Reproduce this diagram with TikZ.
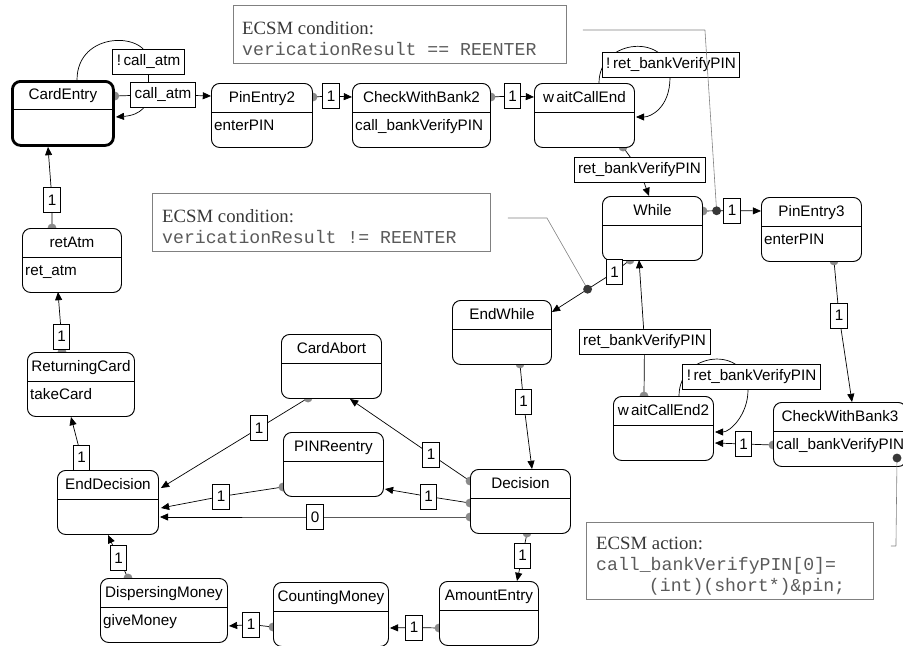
\documentclass[tikz,border=0pt]{standalone}
\usepackage{fontspec}
\setmainfont{Liberation Serif}
\setsansfont{Liberation Sans}
\setmonofont{Liberation Mono}
\usetikzlibrary{arrows.meta}

\definecolor{notegray}{HTML}{808080}
\definecolor{dotgray}{HTML}{8A8A8A}
\definecolor{notetext}{HTML}{383838}
\definecolor{codetext}{HTML}{5A5A5A}

\pgfdeclarelayer{bg}
\pgfsetlayers{bg,main}

\tikzset{
  nudge/.style={shift={(#1)}},
  state/.style={draw, fill=white, rounded corners=7pt, anchor=north west,
    minimum height=1.92cm, inner sep=0pt, line width=0.8pt},
  initstate/.style={line width=2.4pt},
  title/.style={anchor=base, inner sep=0pt, font=\sffamily\fontsize{13}{15}\selectfont},
  body/.style={anchor=base west, inner sep=0pt, font=\sffamily\fontsize{13}{15}\selectfont},
  lbl/.style={draw, fill=white, line width=0.7pt, inner xsep=3.5pt, inner ysep=0pt,
    minimum height=0.75cm, font=\sffamily\fontsize{13}{15}\selectfont},
  flow/.style={line width=0.6pt, -{Triangle[length=7pt,width=6pt]}},
  dot/.style={circle, fill=dotgray, inner sep=0pt, minimum size=7.6pt},
  pin/.style={fill=notetext},
  note/.style={draw=notegray, line width=0.8pt, anchor=north west, inner sep=0pt},
  notetxt/.style={anchor=north west, inner sep=0pt, align=left, text=notetext,
    font=\rmfamily\fontsize{16}{18}\selectfont},
  noteline/.style={draw=notegray, line width=0.5pt}
}

\newcommand{\umlstate}[7][]{%
  \node[state,#1,minimum width=#5*0.03cm] (#2) at (#3,#4) {};
  \draw[line width=0.7pt] ([nudge={0,29}]#2.north west) -- ([nudge={0,29}]#2.north east);
  \node[title] at ([nudge={0,19}]#2.north) {#6};
  \node[body] at ([nudge={3,47}]#2.north west) {#7};
}
\newcommand{\code}[1]{{\ttfamily\fontsize{15.5}{18}\selectfont\color{codetext}#1}}

\begin{document}
\begin{tikzpicture}[x=0.03cm,y=-0.03cm]
\useasboundingbox (0,0) rectangle (903,645);
\clip (0,0) rectangle (903,645);

% states
\umlstate[initstate]{CardEntry}{11}{80}{101}{CardEntry}{}
\umlstate{PinEntry2}{211}{83}{101}{PinEntry2}{enterPIN}
\umlstate{CheckWithBank2}{352}{83}{138}{CheckWithBank2}{call\_bankVerifyPIN}
\umlstate{waitCallEnd}{534}{83}{100}{w\kern2pt aitCallEnd}{}
\umlstate{While}{602}{196}{100}{While}{}
\umlstate{PinEntry3}{761}{197}{100}{PinEntry3}{enterPIN}
\umlstate{CheckWithBank3}{773}{402}{133}{CheckWithBank3}{call\_bankVerifyPIN}
\umlstate{waitCallEnd2}{613}{396}{100}{w\kern2pt aitCallEnd2}{}
\umlstate{EndWhile}{452}{300}{99}{EndWhile}{}
\umlstate{Decision}{470}{469}{100}{Decision}{}
\umlstate{AmountEntry}{439}{581}{99}{AmountEntry}{}
\umlstate{CountingMoney}{273}{582}{115}{CountingMoney}{}
\umlstate{DispersingMoney}{100}{578}{127}{DispersingMoney}{giveMoney}
\umlstate{EndDecision}{57}{470}{101}{EndDecision}{}
\umlstate{PINReentry}{283}{432}{100}{PINReentry}{}
\umlstate{CardAbort}{281}{334}{100}{CardAbort}{}
\umlstate{ReturningCard}{27}{352}{107}{ReturningCard}{takeCard}
\umlstate{retAtm}{22}{228}{99}{retAtm}{ret\_atm}

% guards
\node[lbl] (g1) at (163,94.5) {call\_atm};
\node[lbl] (g2) at (148.5,61.5) {!\,call\_atm};
\node[lbl] (g3) at (331,96) {1};
\node[lbl] (g4) at (512.5,96) {1};
\node[lbl] (g5) at (671,64.5) {!\,ret\_bankVerifyPIN};
\node[lbl] (g6) at (639.5,170) {ret\_bankVerifyPIN};
\node[lbl] (g7) at (732,210.5) {1};
\node[lbl] (g8) at (614.5,272) {1};
\node[lbl] (g9) at (644.5,342) {ret\_bankVerifyPIN};
\node[lbl] (g10) at (751.5,377) {!\,ret\_bankVerifyPIN};
\node[lbl] (g11) at (839,315.5) {1};
\node[lbl] (g12) at (743.5,444) {1};
\node[lbl] (g13) at (523.5,401.5) {1};
\node[lbl] (g14) at (431,454.5) {1};
\node[lbl] (g15) at (428.5,496.5) {1};
\node[lbl] (g16) at (315,517) {0};
\node[lbl] (g17) at (522.5,555.5) {1};
\node[lbl] (g18) at (414,627.5) {1};
\node[lbl] (g19) at (251,624.5) {1};
\node[lbl] (g20) at (118.5,558) {1};
\node[lbl] (g21) at (81.5,457.5) {1};
\node[lbl] (g22) at (221,496.5) {1};
\node[lbl] (g23) at (259,428) {1};
\node[lbl] (g24) at (61.5,336.5) {1};
\node[lbl] (g25) at (52,200) {1};

% transitions
\begin{pgfonlayer}{bg}
\draw[flow] ([nudge={0,16}]CardEntry.north east) node[dot]{} -- (g1.center) -- ([nudge={0,13}]PinEntry2.north west);
\draw[flow] ([nudge={66,0}]CardEntry.north west) .. controls +(0,-50) and +(0,-30) .. (g2.center)
  -- (g2.center |- g1.center) .. controls +(0,10) and +(26,-2) .. ([nudge={1,37}]CardEntry.north east);
\draw[flow] ([nudge={0,14}]PinEntry2.north east) node[dot]{} -- (g3.center) -- ([nudge={0,14}]CheckWithBank2.north west);
\draw[flow] ([nudge={0,14}]CheckWithBank2.north east) node[dot]{} -- (g4.center) -- ([nudge={0,14}]waitCallEnd.north west);
\draw[flow] ([nudge={65,0}]waitCallEnd.north west) .. controls +(0,-45) and +(0,-45) .. ([nudge={-1,0}]g5.south)
  .. controls +(0,30) and +(15,0) .. ([nudge={1,34}]waitCallEnd.north east);
\draw[flow] ([nudge={89,64}]waitCallEnd.north west) node[dot]{} -- (g6.center) -- ([nudge={47,0}]While.north west);
\draw[flow] ([nudge={0,15}]While.north east) node[dot]{} -- coordinate[pos=0.47] (pinA) (g7.center) -- ([nudge={0,14}]PinEntry3.north west);
\draw[flow] ([nudge={28,64}]While.north west) node[dot]{} -- (g8.center) -- coordinate[pos=0.43] (pinB) ([nudge={0,12}]EndWhile.north east);
\draw[flow] ([nudge={31,0}]waitCallEnd2.north west) node[dot]{} -- (g9.center) -- ([nudge={37,64}]While.north west);
\draw[flow] ([nudge={66,0}]waitCallEnd2.north west) .. controls +(0,-45) and +(0,-45) .. ([nudge={-3.5,0}]g10.south)
  .. controls +(0,25) and +(15,0) .. ([nudge={1,36}]waitCallEnd2.north east);
\draw[flow] ([nudge={73,64}]PinEntry3.north west) node[dot]{} -- (g11.center) -- ([nudge={79,0}]CheckWithBank3.north west);
\draw[flow] ([nudge={0,43}]CheckWithBank3.north west) node[dot]{} -- (g12.center) -- ([nudge={1,47}]waitCallEnd2.north east);
\draw[flow] ([nudge={68,64}]EndWhile.north west) node[dot]{} -- (g13.center) -- ([nudge={62,0}]Decision.north west);
\draw[flow] ([nudge={0,12}]Decision.north west) node[dot]{} -- (g14.center) -- ([nudge={69,65}]CardAbort.north west);
\draw[flow] ([nudge={0,34}]Decision.north west) node[dot]{} -- (g15.center) -- ([nudge={1,57}]PINReentry.north east);
\draw[flow] ([nudge={0,48}]Decision.north west) node[dot]{} -- (g16.center) -- ([nudge={1,47}]EndDecision.north east);
\draw[flow] ([nudge={57,64}]Decision.north west) node[dot]{} -- (g17.center) -- ([nudge={78,0}]AmountEntry.north west);
\draw[flow] ([nudge={0,47}]AmountEntry.north west) node[dot]{} -- (g18.center) -- ([nudge={1,46}]CountingMoney.north east);
\draw[flow] ([nudge={0,45}]CountingMoney.north west) node[dot]{} -- (g19.center) -- ([nudge={1,48}]DispersingMoney.north east);
\draw[flow] ([nudge={28,0}]DispersingMoney.north west) node[dot]{} -- (g20.center) -- ([nudge={51,65}]EndDecision.north west);
\draw[flow] ([nudge={23,0}]EndDecision.north west) node[dot]{} -- (g21.center) -- ([nudge={44,65}]ReturningCard.north west);
\draw[flow] ([nudge={0,55}]PINReentry.north west) node[dot]{} -- (g22.center) -- ([nudge={2,38}]EndDecision.north east);
\draw[flow] ([nudge={27,64}]CardAbort.north west) node[dot]{} -- (g23.center) -- ([nudge={2,18}]EndDecision.north east);
\draw[flow] ([nudge={35,0}]ReturningCard.north west) node[dot]{} -- (g24.center) -- ([nudge={36,64}]retAtm.north west);
\draw[flow] ([nudge={30,0}]retAtm.north west) node[dot]{} -- (g25.center) -- ([nudge={37,67}]CardEntry.north west);
\end{pgfonlayer}

% notes
\node[note, minimum width=333*0.03cm, minimum height=58*0.03cm] (note1) at (233,5) {};
\node[notetxt] at ([nudge={9,16}]note1.north west) {ECSM condition:\\\code{vericationResult == REENTER}};
\node[note, minimum width=338*0.03cm, minimum height=58*0.03cm] (note2) at (152,193) {};
\node[notetxt] at ([nudge={10,16}]note2.north west) {ECSM condition:\\\code{vericationResult != REENTER}};
\node[note, minimum width=287*0.03cm, minimum height=77*0.03cm] (note3) at (586,522) {};
\begin{scope}
  \clip (note3.north west) rectangle ([nudge={0,-5}]note3.south east);
  \node[notetxt] at ([nudge={10,15}]note3.north west) {ECSM action:\\\code{call\_bankVerifyPIN[0]=}\\\code{\hspace*{45pt}(int)(short*)\&pin;}};
\end{scope}

\coordinate (pinC) at ([nudge={124,56}]CheckWithBank3.north west);
\draw[noteline] ([nudge={16,25}]note1.north east) -- ++(122,0) -- (pinA);
\draw[noteline] ([nudge={17,25}]note2.north east) -- ++(39,0) -- (pinB);
\draw[noteline] (pinC) -- ([nudge={22,24}]note3.north east) -- ([nudge={17,24}]note3.north east);
\fill[pin] (pinA) circle (3.8pt);
\fill[pin] (pinB) circle (3.8pt);
\fill[pin] (pinC) circle (3.8pt);
\end{tikzpicture}
\end{document}
